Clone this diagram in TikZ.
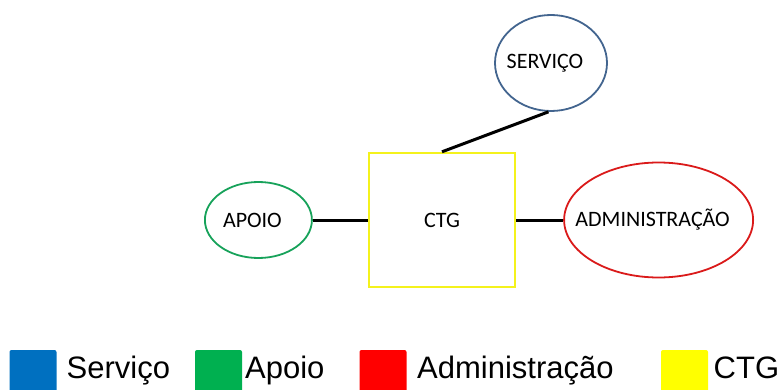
\documentclass[tikz,border=0pt]{standalone}
\usepackage{fontspec}
\setmainfont{Carlito}
\newfontfamily\legendfont{Liberation Sans}
\usetikzlibrary{positioning,shapes.geometric}
\definecolor{servblue}{HTML}{43658F}
\definecolor{apoiogreen}{HTML}{17A25A}
\definecolor{admred}{HTML}{DA1A1A}
\definecolor{ctgyellow}{HTML}{F4F21C}
\definecolor{keyblue}{HTML}{0070C0}
\definecolor{keygreen}{HTML}{00B050}
\definecolor{keyred}{HTML}{FF0000}
\definecolor{keyyellow}{HTML}{FFFF00}
\tikzset{
  sector/.style={
    ellipse,
    draw,
    line width=1.8pt,
    inner sep=0pt,
    label={[font=\fontsize{22}{26}\selectfont, xshift=-6pt]center:#1}
  },
  centerbox/.style={
    rectangle,
    draw=ctgyellow,
    line width=2.4pt,
    inner sep=0pt,
    minimum width=146pt,
    minimum height=134pt,
    font=\fontsize{22}{26}\selectfont
  },
  link/.style={
    line width=3pt,
    draw=black
  },
  keybox/.style={
    rectangle,
    rounded corners=2pt,
    inner sep=0pt,
    minimum size=47pt
  },
  keytext/.style={
    anchor=base west,
    inner sep=0pt,
    font=\legendfont\fontsize{31}{36}\selectfont
  }
}

\begin{document}
\begin{tikzpicture}[x=1pt, y=1pt]
    \clip (0,0) rectangle (784,389);

    \node[centerbox] (ctg) at (442,169) {CTG};
    \node[sector=APOIO, draw=apoiogreen, minimum width=107pt, minimum height=76pt, left=55pt of ctg] (apoio) {};
    \node[sector=ADMINISTRAÇÃO, draw=admred, minimum width=189pt, minimum height=115pt, right=47pt of ctg] (admin) {};
    \node[sector=SERVIÇO, draw=servblue, minimum width=112pt, minimum height=96pt] (servico) at (551,326) {};

    \draw[link] (apoio) -- (ctg);
    \draw[link] (ctg) -- (admin);
    \draw[link] (ctg.north) -- (servico.-93);

    % legenda
    \node[keybox, fill=keyblue] (keyserv) at (33,15.5) {};
    \node[keybox, fill=keygreen] (keyapoio) at (218.5,15.5) {};
    \node[keybox, fill=keyred] (keyadmin) at (383,15.5) {};
    \node[keybox, fill=keyyellow] (keyctg) at (684.5,15.5) {};
    \node[keytext] (keyservtext) at (66.5,11) {Serviço};
    \node[keytext] (keyapoiotext) at (245,11) {Apoio};
    \node[keytext] (keyadmintext) at (417,11) {Administração};
    \node[keytext] (keyctgtext) at (713.5,11) {CTG};
\end{tikzpicture}
\end{document}
